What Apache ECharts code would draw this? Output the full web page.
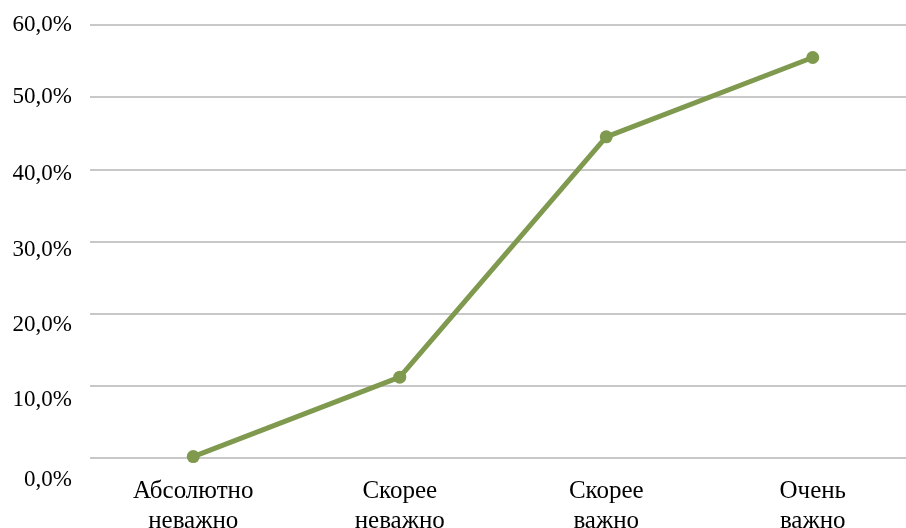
<!DOCTYPE html>
<html>
<head>
<meta charset="utf-8">
<script src="https://cdn.jsdelivr.net/npm/echarts@6/dist/echarts.min.js"></script>
<style>
  html, body { margin: 0; padding: 0; background: #fff; }
  #chart { width: 906px; height: 528px; }
</style>
</head>
<body>
<div id="chart"></div>
<script>
  // categories and values
  var categories = ['Абсолютно\nневажно', 'Скорее\nневажно', 'Скорее\nважно', 'Очень\nважно'];
  var values = [0.2, 11.2, 44.5, 55.5];
  var yTicks = { min: 0, max: 60, step: 10 };
  // the scanned original drifts its y labels downwards (px, for 0..60)
  var yLabelDrop = [22, 14, 11, 8, 5, 0, 0];

  var rich = {};
  yLabelDrop.forEach(function (d, i) {
    rich['t' + i] = {
      fontFamily: 'Liberation Serif',
      fontSize: 23,
      color: '#000',
      padding: [d * 2, 0, 0, 0]
    };
  });

  var chart = echarts.init(document.getElementById('chart'));

  var option = {
    animation: false,
    grid: {
      top: 25,
      left: 90,
      width: 826,
      bottom: 70,
      outerBoundsMode: 'none',
      containLabel: false
    },
    xAxis: {
      type: 'category',
      data: categories,
      boundaryGap: true,
      axisLine: { show: false },
      axisTick: { show: false },
      axisLabel: {
        margin: 18,
        fontFamily: 'Liberation Serif',
        fontSize: 25,
        lineHeight: 30,
        color: '#000'
      }
    },
    yAxis: {
      type: 'value',
      min: yTicks.min,
      max: yTicks.max,
      interval: yTicks.step,
      axisLine: { show: false },
      axisTick: { show: false },
      splitLine: {
        lineStyle: { color: '#c8c8c8', width: 2 }
      },
      axisLabel: {
        margin: 18,
        rich: rich,
        formatter: function (v) {
          var i = Math.round(v / yTicks.step);
          return '{t' + i + '|' + v.toFixed(1).replace('.', ',') + '%}';
        }
      }
    },
    series: [
      {
        type: 'line',
        data: values,
        symbol: 'circle',
        symbolSize: 13,
        lineStyle: { color: '#7f9a4e', width: 5 },
        itemStyle: { color: '#7f9a4e' }
      }
    ]
  };

  chart.setOption(option);
</script>
</body>
</html>
